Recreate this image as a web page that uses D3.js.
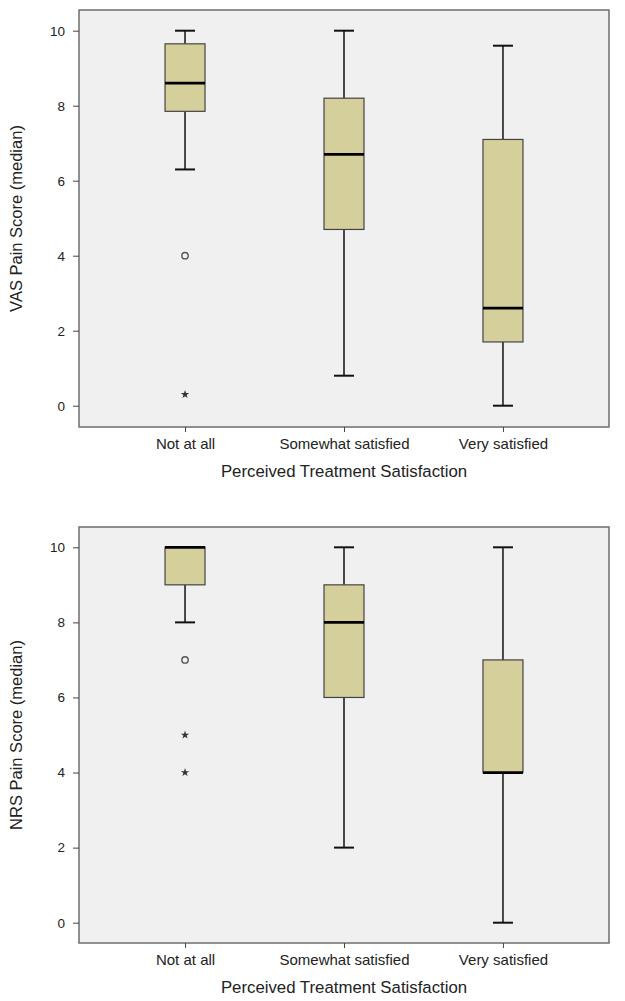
<!DOCTYPE html>
<html>
<head>
<meta charset="utf-8">
<script src="https://cdn.jsdelivr.net/npm/d3@7"></script>
<style>
  body { margin: 0; background: #fff; }
  svg { display: block; font-family: "Liberation Sans", Arial, sans-serif; }
</style>
</head>
<body>
<div id="chart"></div>
<script>
const categories = ['Not at all', 'Somewhat satisfied', 'Very satisfied'];
const yTicks = [0, 2, 4, 6, 8, 10];

// [lower whisker, Q1, median, Q3, upper whisker]
const vasBoxes = [[6.3, 7.85, 8.6, 9.65, 10], [0.8, 4.7, 6.7, 8.2, 10], [0, 1.7, 2.6, 7.1, 9.6]];
const vasOutliers = [[4], [], []];
const vasExtremes = [[0.3], [], []];

const nrsBoxes = [[8, 9, 10, 10, 10], [2, 6, 8, 9, 10], [0, 4, 4, 7, 10]];
const nrsOutliers = [[7], [], []];
const nrsExtremes = [[5, 4], [], []];

const w = 625, h = 1001;
const boxFill = '#d5cf9b';

const svg = d3.select('#chart').append('svg')
  .attr('width', w)
  .attr('height', h);

function drawPanel(top, bottom, yZero, yTen, yTitle, boxes, outliers, extremes) {
  const left = 79, right = 609;

  const x = d3.scalePoint()
    .domain(categories)
    .range([left, right])
    .padding(0.667);

  const y = d3.scaleLinear()
    .domain([0, 10])
    .range([yZero, yTen]);

  const g = svg.append('g');

  g.append('rect')
    .attr('x', left)
    .attr('y', top)
    .attr('width', right - left)
    .attr('height', bottom - top)
    .attr('fill', '#f0f0f0')
    .attr('stroke', '#6e6e6e')
    .attr('stroke-width', 1.5);

  const yAxis = d3.axisLeft(y).tickValues(yTicks).tickSize(6).tickPadding(8).tickFormat(d3.format('d'));
  const ya = g.append('g')
    .attr('transform', 'translate(' + left + ',0)')
    .call(yAxis);
  ya.select('.domain').remove();
  ya.selectAll('line').attr('stroke', '#444');
  ya.selectAll('text').attr('font-size', 13.5).attr('fill', '#222')
    .attr('font-family', '"Liberation Sans", Arial, sans-serif');

  const xAxis = d3.axisBottom(x).tickSize(5).tickPadding(6);
  const xa = g.append('g')
    .attr('transform', 'translate(0,' + bottom + ')')
    .call(xAxis);
  xa.select('.domain').remove();
  xa.selectAll('line').attr('stroke', '#444');
  xa.selectAll('text').attr('font-size', 15).attr('fill', '#222')
    .attr('font-family', '"Liberation Sans", Arial, sans-serif');

  const boxW = 40, capW = 20;

  const box = g.selectAll('.box')
    .data(boxes)
    .enter()
    .append('g')
    .attr('class', 'box')
    .attr('transform', (d, i) => 'translate(' + x(categories[i]) + ',0)');

  // whiskers
  box.append('line')
    .attr('x1', 0).attr('x2', 0)
    .attr('y1', (d) => y(d[0])).attr('y2', (d) => y(d[1]))
    .attr('stroke', '#111').attr('stroke-width', 1.5);
  box.append('line')
    .attr('x1', 0).attr('x2', 0)
    .attr('y1', (d) => y(d[3])).attr('y2', (d) => y(d[4]))
    .attr('stroke', '#111').attr('stroke-width', 1.5);
  box.append('line')
    .attr('x1', -capW / 2).attr('x2', capW / 2)
    .attr('y1', (d) => y(d[0])).attr('y2', (d) => y(d[0]))
    .attr('stroke', '#111').attr('stroke-width', 2);
  box.append('line')
    .attr('x1', -capW / 2).attr('x2', capW / 2)
    .attr('y1', (d) => y(d[4])).attr('y2', (d) => y(d[4]))
    .attr('stroke', '#111').attr('stroke-width', 2);

  box.append('rect')
    .attr('x', -boxW / 2)
    .attr('width', boxW)
    .attr('y', (d) => y(d[3]))
    .attr('height', (d) => y(d[1]) - y(d[3]))
    .attr('fill', boxFill)
    .attr('stroke', '#444')
    .attr('stroke-width', 1.2);

  box.append('line')
    .attr('x1', -boxW / 2).attr('x2', boxW / 2)
    .attr('y1', (d) => y(d[2])).attr('y2', (d) => y(d[2]))
    .attr('stroke', '#000').attr('stroke-width', 2.8);

  outliers.forEach((vals, i) => {
    g.selectAll(null)
      .data(vals)
      .enter()
      .append('circle')
      .attr('cx', x(categories[i]))
      .attr('cy', (d) => y(d))
      .attr('r', 3.2)
      .attr('fill', 'none')
      .attr('stroke', '#555')
      .attr('stroke-width', 1.4);
  });

  const star = d3.symbol().type(d3.symbolStar).size(22);
  extremes.forEach((vals, i) => {
    g.selectAll(null)
      .data(vals)
      .enter()
      .append('path')
      .attr('d', star)
      .attr('transform', (d) => 'translate(' + x(categories[i]) + ',' + y(d) + ')')
      .attr('fill', '#333');
  });

  g.append('text')
    .attr('transform', 'translate(22,' + ((top + bottom) / 2) + ')rotate(-90)')
    .attr('text-anchor', 'middle')
    .attr('font-size', 16.5)
    .attr('fill', '#222')
    .text(yTitle);

  g.append('text')
    .attr('x', (left + right) / 2)
    .attr('y', bottom + 50)
    .attr('text-anchor', 'middle')
    .attr('font-size', 16.8)
    .attr('fill', '#222')
    .text('Perceived Treatment Satisfaction');
}

drawPanel(10, 427, 405.7, 30.7, 'VAS Pain Score (median)', vasBoxes, vasOutliers, vasExtremes);
drawPanel(527, 943, 922.7, 547.3, 'NRS Pain Score (median)', nrsBoxes, nrsOutliers, nrsExtremes);
</script>
</body>
</html>
